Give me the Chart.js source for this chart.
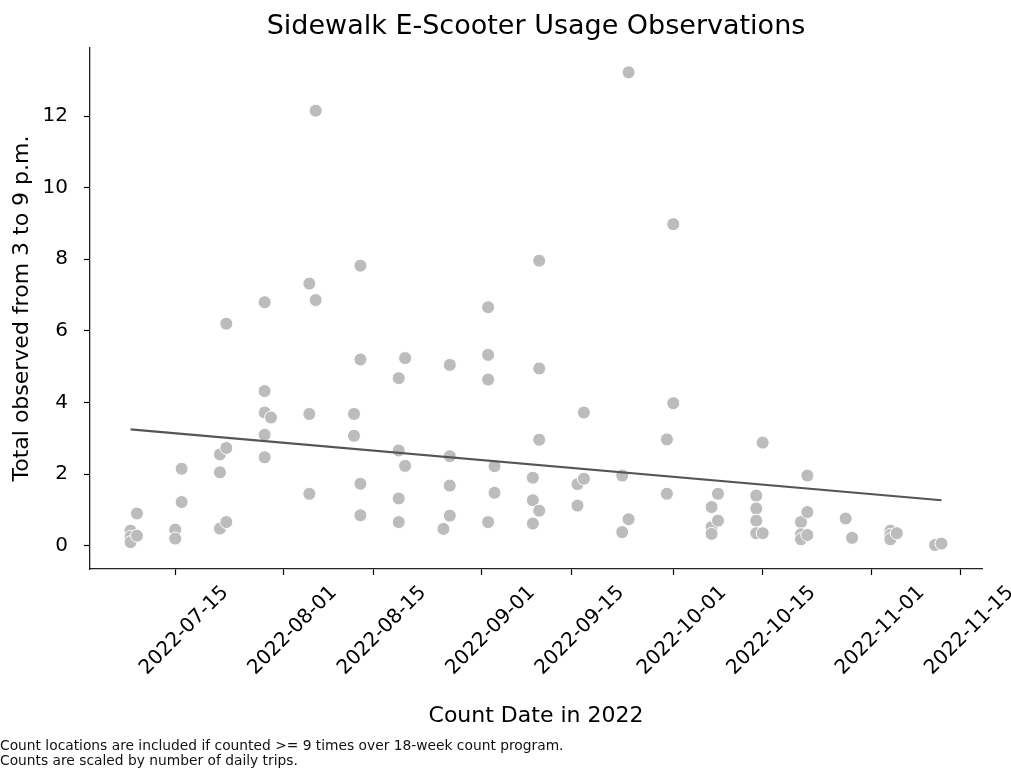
<!DOCTYPE html>
<html>
<head>
<meta charset="utf-8">
<script src="https://cdn.jsdelivr.net/npm/chart.js@4.4.1/dist/chart.umd.min.js"></script>
<style>
  html, body { margin: 0; padding: 0; background: #ffffff; }
  #wrap { position: relative; width: 1011px; height: 779px; }
</style>
</head>
<body>
<div id="wrap"><canvas id="chart" width="1011" height="779"></canvas></div>
<script>
// Count dates (two counts per week) and the scaled totals observed on each date
const countDates = [
  '2022-07-08', '2022-07-09', '2022-07-15', '2022-07-16', '2022-07-22', '2022-07-23',
  '2022-07-29', '2022-07-30', '2022-08-05', '2022-08-06', '2022-08-12', '2022-08-13',
  '2022-08-19', '2022-08-20', '2022-08-26', '2022-08-27', '2022-09-02', '2022-09-03',
  '2022-09-09', '2022-09-10', '2022-09-16', '2022-09-17', '2022-09-23', '2022-09-24',
  '2022-09-30', '2022-10-01', '2022-10-07', '2022-10-08', '2022-10-14', '2022-10-15',
  '2022-10-21', '2022-10-22', '2022-10-28', '2022-10-29', '2022-11-04', '2022-11-05',
  '2022-11-11', '2022-11-12'
];
const countTotals = [
  [0.42, 0.25, 0.1], [0.9, 0.28], [0.45, 0.2], [2.15, 1.22], [2.55, 2.05, 0.48], [6.2, 2.73, 0.66],
  [6.8, 4.32, 3.72, 3.1, 2.47], [3.58], [7.32, 3.68, 1.45], [12.15, 6.86], [3.68, 3.07], [7.82, 5.2, 1.73, 0.85],
  [4.68, 2.66, 1.32, 0.66], [5.24, 2.23], [0.47], [5.05, 2.5, 1.68, 0.84], [6.66, 5.33, 4.64, 0.66], [2.22, 1.48],
  [1.9, 1.27, 0.62], [7.96, 4.95, 2.96, 0.98], [1.72, 1.12], [3.72, 1.87], [1.96, 0.38], [13.22, 0.74],
  [2.97, 1.45], [8.98, 3.98], [1.08, 0.52, 0.33], [1.45, 0.7], [1.4, 1.04, 0.7, 0.35], [2.88, 0.35],
  [0.66, 0.32, 0.18], [1.96, 0.94, 0.3], [0.76], [0.22], [0.42, 0.3, 0.18], [0.35],
  [0.02], [0.06]
];

// Fitted trend line, first and last count date
const trendDates = ['2022-07-08', '2022-11-12'];
const trendValues = [3.25, 1.27];

const xTickDates = ['2022-07-15', '2022-08-01', '2022-08-15', '2022-09-01', '2022-09-15',
                    '2022-10-01', '2022-10-15', '2022-11-01', '2022-11-15'];
const yTickValues = [0, 2, 4, 6, 8, 10, 12];

const chartTitle = 'Sidewalk E-Scooter Usage Observations';
const xTitle = 'Count Date in 2022';
const yTitle = 'Total observed from 3 to 9 p.m.';
const notes = [
  'Count locations are included if counted >= 9 times over 18-week count program.',
  'Counts are scaled by number of daily trips.'
];

// Dates are plotted as day numbers counted from 1 July 2022
const DAY_MS = 86400000;
const ORIGIN = Date.UTC(2022, 6, 1);
const dayNumber = s => (Date.parse(s + 'T00:00:00Z') - ORIGIN) / DAY_MS;
const labelByDay = new Map(xTickDates.map(s => [dayNumber(s), s]));

const points = [];
countDates.forEach((d, i) => {
  countTotals[i].forEach(v => points.push({ x: dayNumber(d), y: v }));
});
const trend = trendDates.map((d, i) => ({ x: dayNumber(d), y: trendValues[i] }));

const FONT = "'DejaVu Sans', 'Liberation Sans', sans-serif";

// Figure title over the plot area, and the notes under the figure
const extraText = {
  id: 'extraText',
  afterDraw(chart) {
    const ctx = chart.ctx;
    const area = chart.chartArea;
    ctx.save();
    ctx.fillStyle = '#000';
    ctx.font = '27px ' + FONT;
    ctx.textAlign = 'center';
    ctx.textBaseline = 'middle';
    ctx.fillText(chartTitle, (area.left + area.right) / 2, 27);
    ctx.font = '13.8px ' + FONT;
    ctx.textAlign = 'left';
    ctx.fillStyle = '#111';
    ctx.fillText(notes[0], 0, 746);
    ctx.fillText(notes[1], 0, 761);
    ctx.restore();
  }
};

new Chart(document.getElementById('chart'), {
  type: 'scatter',
  data: {
    datasets: [
      {
        type: 'line',
        data: trend,
        borderColor: '#555555',
        borderWidth: 2.2,
        pointRadius: 0,
        fill: false,
        order: 0
      },
      {
        data: points,
        backgroundColor: '#bcbcbc',
        borderColor: '#ffffff',
        borderWidth: 1,
        pointRadius: 6.5,
        order: 1
      }
    ]
  },
  options: {
    responsive: false,
    animation: false,
    devicePixelRatio: 1,
    layout: { padding: { left: 0, right: 29, top: 48, bottom: 0 } },
    plugins: {
      legend: { display: false },
      tooltip: { enabled: false },
      title: { display: false }
    },
    scales: {
      x: {
        type: 'linear',
        min: 0.65,
        max: 140.35,
        afterBuildTicks(scale) {
          scale.ticks = xTickDates.map(s => ({ value: dayNumber(s) }));
        },
        afterFit(scale) { scale.height = 210; },
        grid: { drawOnChartArea: false, drawTicks: true, tickLength: 6, color: '#000', tickWidth: 1.2 },
        border: { display: true, color: '#222', width: 1.3 },
        ticks: {
          autoSkip: false,
          minRotation: 45,
          maxRotation: 45,
          labelOffset: 50,
          padding: 6,
          color: '#000',
          font: { family: FONT, size: 20 },
          callback: v => labelByDay.get(v) || ''
        },
        title: {
          display: true,
          text: xTitle,
          color: '#000',
          font: { family: FONT, size: 22 },
          padding: { top: 0, bottom: 50 }
        }
      },
      y: {
        min: -0.65,
        max: 13.9,
        afterBuildTicks(scale) {
          scale.ticks = yTickValues.map(v => ({ value: v }));
        },
        afterFit(scale) { scale.width = 90; },
        grid: { drawOnChartArea: false, drawTicks: true, tickLength: 6, color: '#000', tickWidth: 1.2 },
        border: { display: true, color: '#222', width: 1.3 },
        ticks: {
          padding: 16,
          color: '#000',
          font: { family: FONT, size: 20 }
        },
        title: {
          display: true,
          text: yTitle,
          color: '#000',
          font: { family: FONT, size: 22 },
          padding: { top: 9, bottom: 0 }
        }
      }
    }
  },
  plugins: [extraText]
});
</script>
</body>
</html>
